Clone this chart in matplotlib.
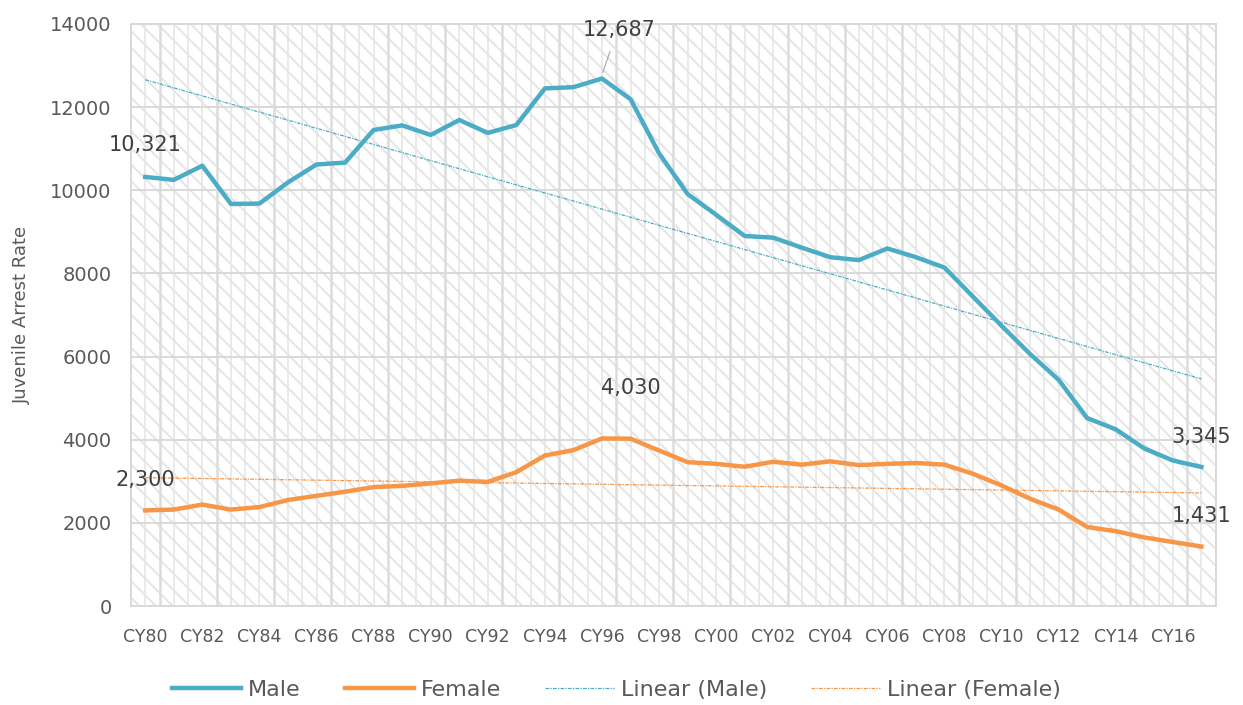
import matplotlib.pyplot as plt
import numpy as np
from matplotlib.patches import Rectangle

plt.rcParams['font.family'] = ['DejaVu Sans']
plt.rcParams['hatch.linewidth'] = 1.3

# Data
years = ["CY%02d" % (y % 100) for y in range(1980, 2018)]
male = [10321, 10250, 10590, 9670, 9680, 10190, 10620, 10665, 11450, 11560,
        11330, 11690, 11380, 11570, 12450, 12480, 12687, 12190, 10890, 9910,
        9410, 8900, 8860, 8620, 8390, 8320, 8600, 8390, 8140, 7440,
        6740, 6060, 5440, 4520, 4250, 3790, 3500, 3345]
female = [2300, 2320, 2440, 2320, 2380, 2550, 2650, 2750, 2860, 2890,
          2950, 3015, 2985, 3220, 3620, 3750, 4030, 4025, 3740, 3460,
          3420, 3350, 3470, 3400, 3480, 3390, 3420, 3440, 3400, 3180,
          2900, 2580, 2320, 1900, 1800, 1650, 1540, 1431]

male_c = '#4BACC6'
female_c = '#F79646'
grid_c = '#d9d9d9'
text_c = '#595959'

x = np.arange(len(years))

fig = plt.figure(figsize=(12.43, 7.05), dpi=100)
ax = fig.add_axes([0.1054, 0.1404, 0.8726, 0.8256])

# patterned plot background
ax.add_patch(Rectangle((0, 0), 1, 1, transform=ax.transAxes, facecolor='white',
                       edgecolor='#e3e3e3', hatch='\\\\', linewidth=0, zorder=0))
for v in np.arange(-0.5, len(years), 0.5):
    thick = (v - 0.5) % 2 == 0
    ax.axvline(v, color='#dcdcdc' if thick else '#e6e6e6',
               lw=1.8 if thick else 1.2, zorder=0.5)
for yv in range(0, 14001, 2000):
    ax.axhline(yv, color=grid_c, lw=1.4, zorder=0.6)

# trend lines
mfit = np.polyfit(x, male, 1)
ffit = np.polyfit(x, female, 1)
t1, = ax.plot(x, np.polyval(mfit, x), color=male_c, lw=0.9, ls=(0, (3, 1, 1, 1)),
              zorder=2)
t2, = ax.plot(x, np.polyval(ffit, x), color=female_c, lw=0.9, ls=(0, (3, 1, 1, 1)),
              zorder=2)

l1, = ax.plot(x, male, color=male_c, lw=3.2, zorder=3, solid_joinstyle='round')
l2, = ax.plot(x, female, color=female_c, lw=3.2, zorder=3, solid_joinstyle='round')

# data labels
fs = 15
lab_c = '#404040'
ax.text(0, 11090, "10,321", ha='center', va='center', fontsize=fs, color=lab_c)
ax.text(0, 3030, "2,300", ha='center', va='center', fontsize=fs, color=lab_c)
ax.text(17.0, 5245, "4,030", ha='center', va='center', fontsize=fs, color=lab_c)
ax.text(16.6, 13860, "12,687", ha='center', va='center', fontsize=fs, color=lab_c)
ax.plot([16.03, 16.28], [12687 + 150, 12687 + 650], color='#a6a6a6', lw=0.8, zorder=3)
ax.text(37.0, 4065, "3,345", ha='center', va='center', fontsize=fs, color=lab_c)
ax.text(37.0, 2165, "1,431", ha='center', va='center', fontsize=fs, color=lab_c)

ax.set_xlim(-0.5, len(years) - 0.5)
ax.set_ylim(0, 14000)
ax.set_yticks(range(0, 14001, 2000))
ax.set_xticks(x[::2])
ax.set_xticklabels(years[::2])
ax.tick_params(axis='x', length=0, labelsize=12.5, colors=text_c, pad=16)
ax.tick_params(axis='y', length=0, labelsize=14, colors=text_c, pad=14)
ax.set_ylabel('Juvenile Arrest Rate', fontsize=13, color=text_c, labelpad=14)
for s in ax.spines.values():
    s.set_color(grid_c)
    s.set_linewidth(1.4)

leg = fig.legend(handles=[l1, l2, t1, t2],
                 labels=['Male', 'Female', 'Linear (Male)', 'Linear (Female)'],
                 loc='center', bbox_to_anchor=(0.496, 0.021), ncol=4, frameon=False,
                 fontsize=16, handlelength=3.1, columnspacing=2.0, handletextpad=0.3)
for t in leg.get_texts():
    t.set_color(text_c)

fig.savefig('out.png', dpi=100)
